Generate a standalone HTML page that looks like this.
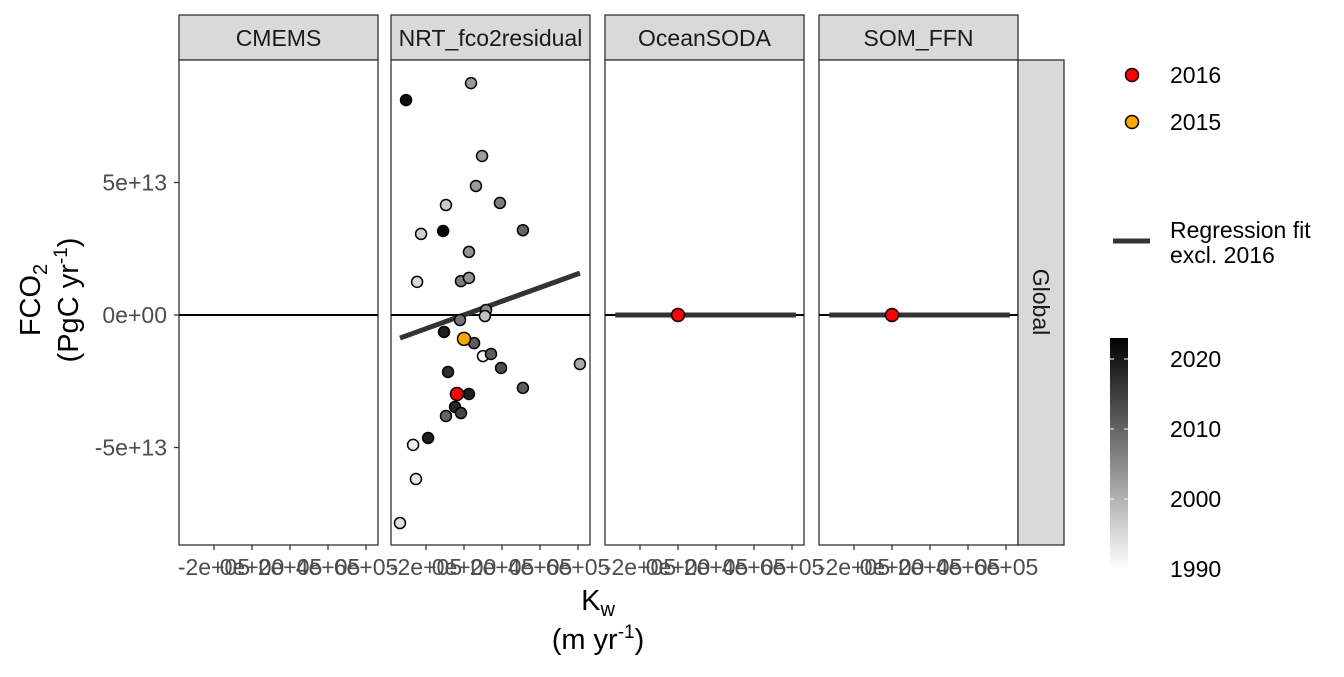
<!DOCTYPE html>
<html><head><meta charset="utf-8"><style>
body{margin:0;background:#fff}
svg text{font-family:"Liberation Sans",sans-serif}
</style></head><body>
<svg id="c" width="1344" height="672" xmlns="http://www.w3.org/2000/svg">
<defs><linearGradient id="g" x1="0" y1="1" x2="0" y2="0"><stop offset="0" stop-color="#fff"/><stop offset="1" stop-color="#000"/></linearGradient></defs>
</svg>
<script>
const panels=["CMEMS","NRT_fco2residual","OceanSODA","SOM_FFN"];
const panelLefts=[179,391,605,819];
const xTicks=[-2,0,2,4,6];
const xTickLabels=["-2e+05","0e+00","2e+05","4e+05","6e+05"];
const yTicks=[-5,0,5];
const yTickLabels=["-5e+13","0e+00","5e+13"];
const nrtX=[.37,-3.05,.95,.63,-.95,1.89,-2.26,-1.1,3.1,.26,-2.47,-.16,.26,1.16,1.1,-.21,-1.05,.53,1.0,1.42,1.95,6.1,-.84,.26,-.47,-.95,-.16,3.1,-1.89,-2.68,-2.53,-3.37];
const nrtY=[8.75,8.11,6.0,4.87,4.15,4.23,3.06,3.17,3.2,2.38,1.25,1.28,1.4,.19,-.04,-.19,-.64,-1.06,-1.55,-1.47,-2.0,-1.85,-2.15,-2.98,-3.47,-3.81,-3.7,-2.75,-4.64,-4.9,-6.19,-7.85];
const nrtYear=[2003,2021,2003,2003,1997,2007,1996,2022,2010,2004,1995,2007,2004,2005,1998,2008,2019,2011,1991,2011,2013,2001,2017,2019,2018,2010,2014,2011,2019,1992,1993,1994];
const hiX=[-.37,0], hiY=[-2.98,-.9], hiLab=["2016","2015"], hiCol=["#ff0000","#ffa500"];
const fitX=[-3.37,6.1], fitY=[-.87,1.58];
const flatX=[-3.3,6.2], flatY=[0,0];
const cbYears=[1990,2000,2010,2020];

const svg=document.getElementById('c');const NS="http://www.w3.org/2000/svg";
function el(t,a,p){const e=document.createElementNS(NS,t);for(const k in a)e.setAttribute(k,a[k]);(p||svg).appendChild(e);return e;}
const PW=199,top0=60,bot=545;
function sx(i,v){return panelLefts[i]+73+v*19;}
function sy(v){return 315-v*26.5;}
function col(yr){const t=Math.max(0,Math.min(1,(yr-1990)/33));const c=Math.round(255*(1-t));return `rgb(${c},${c},${c})`;}

panels.forEach((p,i)=>{
  const L=panelLefts[i];
  const g=el('g',{});
  
  
  const s=el('rect',{x:L,y:15,width:PW,height:45,fill:'#d9d9d9',stroke:'#333','stroke-width':1.3},g);
  
  
  const st=el('text',{x:L+PW/2,y:46,'text-anchor':'middle','font-size':23,fill:'#1a1a1a'},g);st.textContent=p;
  el('rect',{x:L,y:top0,width:PW,height:bot-top0,fill:'#fff',stroke:'#333','stroke-width':1.3},g);
  const zl=el('line',{x1:L,x2:L+PW,y1:sy(0),y2:sy(0),stroke:'#000','stroke-width':2},g);
  
  
  xTicks.forEach((t,k)=>{const x=sx(i,t);
    el('line',{x1:x,x2:x,y1:bot,y2:bot+5,stroke:'#333','stroke-width':1.3},g);
    const tl=el('text',{x:x,y:bot+30,'text-anchor':'middle','font-size':23,fill:'#4d4d4d'},g);tl.textContent=xTickLabels[k];
    
    
  });
  if(i===1){
    const ln=el('line',{x1:sx(i,fitX[0]),y1:sy(fitY[0]),x2:sx(i,fitX[1]),y2:sy(fitY[1]),stroke:'#333','stroke-width':5},g);
    
    
    nrtX.forEach((x,k)=>{const c=el('circle',{cx:sx(i,x),cy:sy(nrtY[k]),r:5.5,fill:col(nrtYear[k]),stroke:'#000','stroke-width':1.5},g);
      
      });
    hiX.forEach((x,k)=>{const c=el('circle',{cx:sx(i,x),cy:sy(hiY[k]),r:6.5,fill:hiCol[k],stroke:'#000','stroke-width':1.5},g);
      
      });
  }
  if(i>=2){
    const ln=el('line',{x1:sx(i,flatX[0]),y1:sy(flatY[0]),x2:sx(i,flatX[1]),y2:sy(flatY[1]),stroke:'#333','stroke-width':5},g);
    
    
    const c=el('circle',{cx:sx(i,0),cy:sy(0),r:6.5,fill:'#ff0000',stroke:'#000','stroke-width':1.5},g);
    
    
  }
});
yTicks.forEach((t,k)=>{const y=sy(t);
  el('line',{x1:174,x2:179,y1:y,y2:y,stroke:'#333','stroke-width':1.3});
  const tl=el('text',{x:167,y:y+8,'text-anchor':'end','font-size':23,fill:'#4d4d4d'});tl.textContent=yTickLabels[k];
  
  
});
const rs=el('rect',{x:1018,y:60,width:46,height:485,fill:'#d9d9d9',stroke:'#333','stroke-width':1.3});


const gt=el('text',{x:1033,y:302,'font-size':23,fill:'#1a1a1a',transform:'rotate(90 1033 302)','text-anchor':'middle'});gt.textContent='Global';

const xt=el('text',{x:598,y:610,'text-anchor':'middle','font-size':29,fill:'#000'});
xt.innerHTML='K<tspan font-size="20" dy="6">w</tspan>';


const xt2=el('text',{x:598,y:649,'text-anchor':'middle','font-size':29,fill:'#000'});
xt2.innerHTML='(m yr<tspan font-size="19" dy="-11">-1</tspan><tspan dy="11">)</tspan>';
const yt=el('g',{});


const y1=el('text',{x:0,y:0,'text-anchor':'middle','font-size':29,fill:'#000',transform:'translate(40,300) rotate(-90)'},yt);
y1.innerHTML='FCO<tspan font-size="20" dy="7">2</tspan>';
const y2=el('text',{x:0,y:0,'text-anchor':'middle','font-size':29,fill:'#000',transform:'translate(78,300) rotate(-90)'},yt);
y2.innerHTML='(PgC yr<tspan font-size="19" dy="-11">-1</tspan><tspan dy="11">)</tspan>';

hiLab.forEach((l,k)=>{const y=75+k*47;
  const c=el('circle',{cx:1132,cy:y,r:6.5,fill:hiCol[k],stroke:'#000','stroke-width':1.5});
  
  
  const t=el('text',{x:1170,y:y+8,'font-size':23,fill:'#000'});t.textContent=l;});
const ll=el('line',{x1:1113,x2:1150,y1:241,y2:241,stroke:'#333','stroke-width':5});


const r1=el('text',{x:1170,y:238,'font-size':23,fill:'#000'});r1.textContent='Regression fit';
const r2=el('text',{x:1170,y:263,'font-size':23,fill:'#000'});r2.textContent='excl. 2016';
const cb=el('rect',{x:1110,y:338,width:18,height:231,fill:'url(#g)'});


cbYears.forEach(yr=>{const y=569-(yr-1990)*7;
  el('line',{x1:1110,x2:1114,y1:y,y2:y,stroke:'#fff','stroke-width':1});
  el('line',{x1:1124,x2:1128,y1:y,y2:y,stroke:'#fff','stroke-width':1});
  const t=el('text',{x:1170,y:y+8,'font-size':23,fill:'#000'});t.textContent=yr;});
</script>
</body></html>
